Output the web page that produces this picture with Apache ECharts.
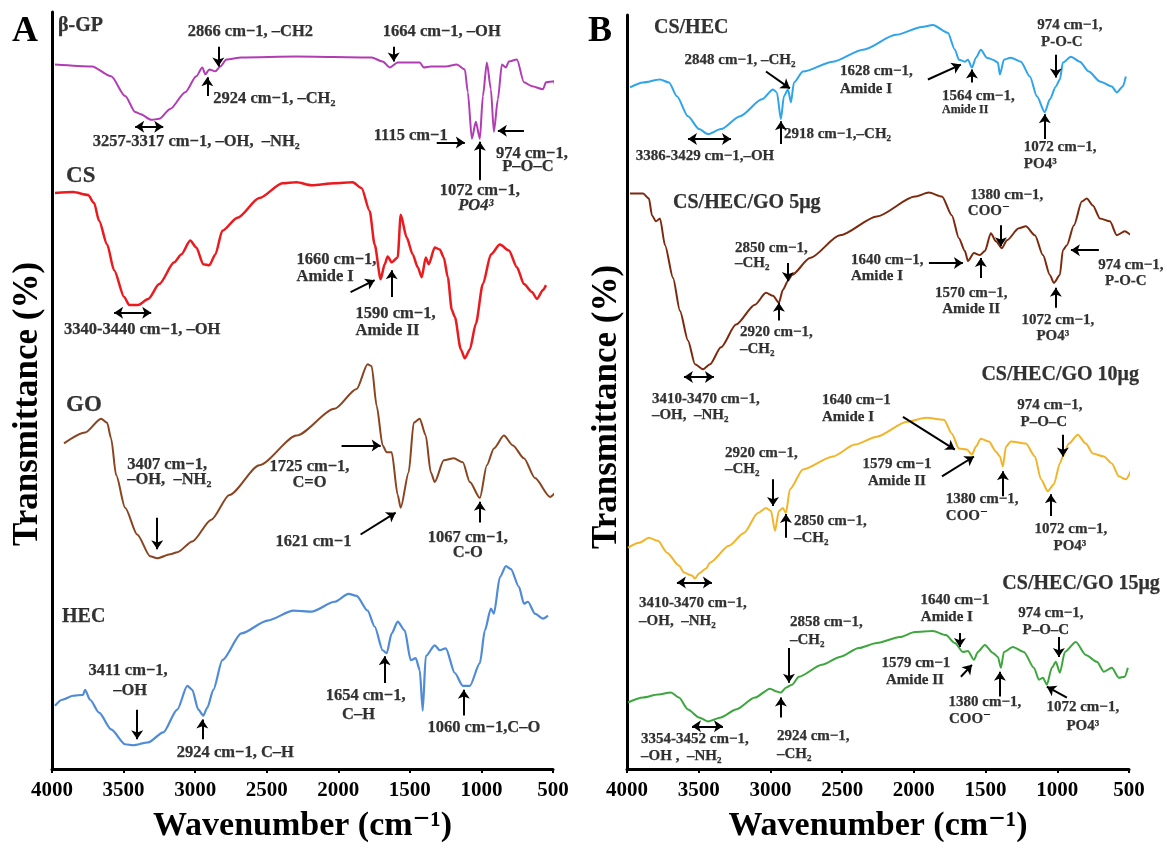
<!DOCTYPE html>
<html><head><meta charset="utf-8">
<script src="https://cdn.jsdelivr.net/npm/echarts@6/dist/echarts.min.js"></script>
<style>html,body{margin:0;padding:0;background:#fff}#c{width:1167px;height:848px}</style>
</head><body><div id="c"></div>
<script>
// ---------- Panel A spectra (wavenumber cm-1, transmittance a.u., stacked offsets) ----------
const bgpWn = [3979,3720,3587,3489,3419,3384,3307,3251,3174,3069,2992,2950,2929,2901,2859,2824,2782,2677,2292,1767,1690,1641,1585,1431,1403,1354,1249,1172,1116,1095,1067,1039,1011,990,962,934,913,885,857,829,808,752,703,647,570,549,493,465,444,416];
const bgpT  = [712,710,700,680,664,662,656,657,667,684,700,709,702,707,705,710,717,719,720,719,715,709,714,714,709,710,710,712,707,684,637,654,637,680,714,687,644,677,712,709,715,717,694,690,687,694,695,674,684,704];
const csWn  = [3979,3853,3748,3706,3671,3615,3566,3496,3461,3398,3328,3251,3146,3097,3034,2992,2943,2901,2859,2810,2705,2551,2390,2292,2187,2026,1900,1837,1781,1746,1704,1676,1655,1627,1585,1564,1522,1480,1445,1417,1389,1368,1326,1291,1263,1235,1207,1186,1144,1116,1081,1039,990,934,871,808,752,703,647,612,570,549];
const csT   = [582,583,580,572,554,530,504,477,469,469,475,490,512,520,534,527,510,509,520,544,557,577,592,593,590,592,593,587,564,530,495,510,518,512,517,560,537,520,507,497,517,510,527,525,517,497,464,457,424,415,424,450,490,520,530,524,507,490,482,475,484,489];
const goWn  = [3916,3769,3657,3615,3587,3552,3489,3405,3314,3265,3174,3125,3020,2887,2761,2551,2292,2026,1872,1795,1767,1732,1690,1662,1627,1585,1564,1508,1473,1431,1389,1354,1326,1263,1193,1130,1081,1011,962,913,843,780,703,626,521,479,451];
const goT   = [329,340,354,350,334,297,264,237,215,213,217,219,230,252,277,307,337,364,384,409,407,367,327,320,320,277,264,300,350,354,337,300,290,312,314,310,290,274,307,324,337,327,314,294,275,279,280];
const hecWn = [3979,3930,3853,3783,3769,3734,3671,3587,3489,3433,3328,3223,3125,3055,3020,2978,2943,2915,2873,2810,2677,2495,2313,2187,2026,1928,1872,1795,1746,1690,1662,1627,1585,1536,1494,1459,1431,1410,1389,1326,1291,1249,1186,1130,1081,1011,976,934,913,871,829,794,738,703,675,626,570,535];
const hecT  = [64,70,74,75,80,70,57,40,25,24,27,37,60,84,80,60,54,62,80,110,137,150,160,159,169,177,175,160,144,120,117,137,149,140,110,112,100,59,114,125,120,122,97,84,84,107,140,162,157,194,205,202,184,167,169,157,152,155];
// ---------- Panel B spectra ----------
const cshecWn = [3979,3888,3770,3707,3652,3575,3498,3435,3345,3212,3059,2982,2955,2927,2906,2878,2857,2836,2773,2564,2355,2125,1944,1867,1763,1714,1686,1644,1623,1595,1567,1533,1491,1449,1414,1400,1372,1324,1254,1191,1142,1087,1052,1010,982,961,905,843,780,703,620,585,543,522];
const cshecT  = [687,692,695,692,678,658,645,640,645,658,675,685,682,655,678,685,672,692,703,713,725,740,748,750,742,725,715,713,715,707,717,725,717,715,712,700,715,717,713,698,678,662,675,688,695,712,718,713,703,693,688,682,688,698];
const go5Wn = [3979,3888,3847,3826,3798,3770,3735,3679,3631,3575,3526,3470,3421,3345,3240,3108,3031,2982,2941,2913,2878,2850,2724,2515,2258,1993,1895,1804,1735,1686,1644,1623,1581,1540,1505,1463,1428,1386,1351,1268,1219,1156,1100,1052,1024,982,961,933,884,829,794,752,703,633,585,529,480,438,424];
const go5T  = [580,580,575,558,552,555,528,495,462,432,408,403,408,425,448,468,480,477,470,483,492,498,515,538,557,577,581,577,558,535,522,512,520,518,522,540,532,525,533,545,547,538,518,498,490,498,523,528,548,572,575,568,555,552,538,542,538,552,558];
const go10Wn = [3993,3916,3847,3784,3721,3638,3603,3547,3526,3498,3449,3421,3289,3185,3087,3031,2996,2968,2941,2913,2892,2864,2773,2564,2411,2258,2048,1916,1790,1735,1686,1630,1595,1567,1533,1477,1428,1400,1379,1358,1324,1219,1156,1114,1066,1024,982,961,919,857,801,752,675,620,571,522,480];
const go10T  = [223,228,233,230,218,205,198,195,192,197,202,208,225,238,258,263,260,240,260,263,258,282,302,315,327,335,350,354,352,338,323,322,317,325,333,330,320,315,305,325,330,328,315,292,280,287,308,315,328,337,328,318,315,308,295,292,303];
const go15Wn = [3993,3888,3784,3693,3638,3575,3498,3435,3345,3240,3108,3003,2955,2927,2892,2850,2801,2641,2515,2383,2258,2097,1993,1867,1777,1714,1658,1623,1581,1554,1505,1449,1414,1393,1372,1310,1233,1163,1128,1100,1073,1038,1010,982,947,871,801,724,675,620,571,529,508];
const go15T  = [67,72,75,77,72,60,52,48,52,60,72,81,78,77,82,85,93,105,113,122,127,133,138,139,135,127,118,119,110,118,125,117,113,102,118,123,118,102,90,92,85,102,108,97,118,128,115,108,98,102,92,93,102];

const xTicks = [500,1000,1500,2000,2500,3000,3500,4000];

// ---------- Annotations: [text, wavenumber, T, align, kind] ----------
const notesA = [
 ['β-GP',3958,751,'left','name'],['CS',3902,599,'left','big'],['GO',3902,368,'left','big'],['HEC',3930,154,'left','name'],
 ['2866 cm−1, –CH2',2614,745,'center'],['1664 cm−1, –OH',1277,745,'center'],['2924 cm−1, –CH₂',2873,677,'left'],
 ['3257-3317 cm−1, –OH,  –NH₂',2992,634,'center'],['1115 cm−1',1494,640,'center'],['974 cm−1,',647,622,'center'],
 ['P–O–C',675,609,'center'],['1072 cm−1,',1011,584,'center'],['PO4³',1039,569,'center','it'],
 ['3340-3440 cm−1, –OH',3370,444,'center'],['1660 cm−1,',2292,515,'left'],['Amide I',2292,497,'left'],
 ['1590 cm−1,',1879,460,'left'],['Amide II',1879,443,'left'],
 ['3407 cm−1,',3475,307,'left'],['–OH,  –NH₂',3475,292,'left'],['1725 cm−1,',2201,305,'center'],['C=O',2201,289,'center'],
 ['1621 cm−1',2173,230,'center'],['1067 cm−1,',1095,234,'center'],['C-O',1095,219,'center'],
 ['3411 cm−1,',3468,99,'center'],['–OH',3454,79,'center'],['2924 cm−1, C–H',2719,16,'center'],
 ['1654 cm−1,',1809,74,'center'],['C–H',1858,55,'center'],['1060 cm−1,C–O',983,42,'center']
];
// arrows: [wn1, T1, wn2, T2, double]
const arrowsA = [
 [2838,730,2838,710],[1613,730,1613,715],[2915,680,2915,699],[3419,649,3223,649,1],[1312,633,1116,633],
 [703,645,885,645],[1011,595,1011,634],[3566,461,3307,461,1],[1914,482,1746,494],[1627,477,1627,504],
 [3265,254,3265,222],[1977,327,1704,327],[1844,237,1599,259],[1011,249,1011,270],
 [3405,60,3405,30],[2950,30,2950,50],[1676,87,1676,114],[1123,54,1123,80]
];
const notesB = [
 ['CS/HEC',3812,747,'left','name'],['CS/HEC/GO 5μg',3679,571,'left','name'],
 ['CS/HEC/GO 10μg',431,397,'right','name'],['CS/HEC/GO 15μg',285,187,'right','name'],
 ['3386-3429 cm−1,–OH',3456,618,'center'],['2848 cm−1, –CH₂',3212,715,'center'],['2918 cm−1,–CH₂',2906,640,'left'],
 ['1628 cm−1,',2515,703,'left'],['Amide I',2515,685,'left'],['1564 cm−1,',1804,678,'left'],['Amide II',1804,664,'left','sm'],
 ['974 cm−1,',912,750,'center'],['P-O-C',968,733,'center'],['1072 cm−1,',1233,627,'left'],['PO4³',1233,610,'left'],
 ['3410-3470 cm−1,',3826,373,'left'],['–OH,  –NH₂',3826,357,'left'],['2850 cm−1,',3247,525,'left'],['–CH₂',3247,510,'left'],
 ['2920 cm−1,',3212,440,'left'],['–CH₂',3212,423,'left'],['1640 cm−1,',2439,513,'left'],['Amide I',2439,497,'left'],
 ['1570 cm−1,',1600,480,'center'],['Amide II',1600,464,'center'],['1380 cm−1,',1351,578,'center'],['COO⁻',1477,562,'center'],
 ['1072 cm−1,',996,452,'center'],['PO4³',1031,436,'center'],['974 cm−1,',487,508,'center'],['P-O-C',522,492,'center'],
 ['3410-3470 cm−1,',3916,167,'left'],['–OH,  –NH₂',3916,149,'left'],['1640 cm−1',2641,372,'left'],['Amide I',2641,355,'left'],
 ['2920 cm−1,',3317,318,'left'],['–CH₂',3317,302,'left'],['2850 cm−1,',2836,250,'left'],['–CH₂',2836,233,'left'],
 ['1579 cm−1',2118,307,'center'],['Amide II',2118,290,'center'],['1380 cm−1,',1777,272,'left'],['COO⁻',1777,255,'left'],
 ['974 cm−1,',1052,367,'center'],['P–O–C',1094,350,'center'],['1072 cm−1,',905,242,'center'],['PO4³',912,225,'center'],
 ['3354-3452 cm−1,',3902,30,'left'],['–OH ,  –NH₂',3902,13,'left'],['2858 cm−1,',2864,148,'left'],['–CH₂',2864,130,'left'],
 ['2924 cm−1,',2955,33,'left'],['–CH₂',2955,15,'left'],['1640 cm−1',1714,170,'center'],['Amide I',1770,153,'center'],
 ['1579 cm−1',1986,107,'center'],['Amide II',1993,90,'center'],['1380 cm−1,',1505,67,'center'],['COO⁻',1609,50,'center'],
 ['974 cm−1,',1045,157,'center'],['P–O–C',1080,140,'center'],['1072 cm−1,',822,62,'center'],['PO4³',822,43,'center']
];
const arrowsB = [
 [3575,635,3275,635,1],[3031,703,2864,686],[2927,630,2927,653],[1902,695,1672,710],[1595,692,1595,705],[1010,720,1010,697],[1087,635,1087,660],
 [3603,395,3394,395,1],[2878,510,2878,492],[2941,452,2941,470],[1895,510,1658,510],[1533,495,1533,515],[1393,548,1393,527],[1010,465,1010,485],[710,523,905,523],
 [3652,188,3408,188,1],[2076,355,1714,322],[2982,292,2982,265],[2892,233,2892,257],[1804,295,1581,315],[1379,275,1379,300],[961,337,961,315],[1045,255,1045,277],
 [3547,43,3331,43,1],[2871,122,2871,87],[2927,52,2927,72],[1679,137,1679,123],[1672,93,1595,105],[1400,73,1400,98],[989,133,989,113],[933,72,1073,83]
];

const FONT = '"Liberation Serif","Times New Roman","DejaVu Serif",serif';
const zip = (w, t) => w.slice(0, Math.min(w.length, t.length)).map((x, i) => [x, t[i]]);

function curve(name, w, t, color, idx, width) {
  return { type: 'line', name, xAxisIndex: idx, yAxisIndex: idx, data: zip(w, t), symbol: 'none',
    clip: false, smooth: 0.25, smoothMonotone: 'x', silent: true,
    lineStyle: { color, width: width || 2 } };
}
function notes(idx, texts, arrows, baseSize) {
  const sizeOf = k => k === 'name' ? 20 : k === 'big' ? 23 : k === 'sm' ? 12 : baseSize;
  return {
    type: 'scatter', xAxisIndex: idx, yAxisIndex: idx, symbolSize: 1, clip: false, silent: true,
    itemStyle: { color: 'rgba(0,0,0,0)' },
    data: texts.map(a => ({ value: [a[1], a[2]], label: {
      show: true, position: 'inside', formatter: a[0], align: a[3], verticalAlign: 'middle',
      fontFamily: FONT, fontWeight: 'bold', fontSize: sizeOf(a[4]),
      fontStyle: a[4] === 'it' ? 'italic' : 'normal', color: '#000',
      textBorderColor: '#000', textBorderWidth: 0.25 } })),
    markLine: {
      silent: true, animation: false, symbol: ['none', 'arrow'], symbolSize: [9, 9],
      lineStyle: { color: '#000', width: 2, type: 'solid' }, label: { show: false },
      data: arrows.map(a => [{ coord: [a[0], a[1]], symbol: a[4] ? 'arrow' : 'none' }, { coord: [a[2], a[3]] }])
    }
  };
}
function xAx(idx) {
  return { type: 'value', gridIndex: idx, inverse: true, min: xTicks[0], max: xTicks[xTicks.length - 1], interval: 500,
    axisLine: { show: true, onZero: false, lineStyle: { color: '#000', width: 3 } },
    axisTick: { show: true, length: 4, lineStyle: { color: '#000', width: 2 } },
    axisLabel: { color: '#000', fontFamily: FONT, fontWeight: 'bold', fontSize: 21, margin: 11,
      formatter: v => String(v) },
    splitLine: { show: false },
    name: 'Wavenumber (cm⁻¹)', nameLocation: 'middle', nameGap: 40,
    nameTextStyle: { fontFamily: FONT, fontWeight: 'bold', fontSize: 34, color: '#000' } };
}
function yAx(idx, max) {
  return { type: 'value', gridIndex: idx, min: 0, max,
    axisLine: { show: true, lineStyle: { color: '#000', width: 3 } },
    axisTick: { show: false }, axisLabel: { show: false }, splitLine: { show: false } };
}

const chart = echarts.init(document.getElementById('c'), null, { renderer: 'canvas' });
chart.setOption({
  backgroundColor: '#fff',
  animation: false,
  grid: [
    { left: 52, right: 614, top: 12, bottom: 71 },
    { left: 627, right: 38, top: 15, bottom: 73 }
  ],
  xAxis: [xAx(0), xAx(1)],
  yAxis: [yAx(0, 765), yAx(1, 760)],
  graphic: [
    { type: 'text', left: 12, top: 14, style: { text: 'A', font: 'bold 36px ' + FONT, fill: '#000' } },
    { type: 'text', left: 588, top: 14, style: { text: 'B', font: 'bold 36px ' + FONT, fill: '#000' } },
    { type: 'text', x: 28, y: 404, rotation: Math.PI / 2,
      style: { text: 'Transmittance (%)', font: 'bold 35px ' + FONT, fill: '#000', align: 'center', verticalAlign: 'middle' } },
    { type: 'text', x: 607, y: 407, rotation: Math.PI / 2,
      style: { text: 'Transmittance (%)', font: 'bold 35px ' + FONT, fill: '#000', align: 'center', verticalAlign: 'middle' } }
  ],
  series: [
    curve('β-GP', bgpWn, bgpT, '#b23cb4', 0),
    curve('CS', csWn, csT, '#ea1a1f', 0, 2.5),
    curve('GO', goWn, goT, '#8a4420', 0),
    curve('HEC', hecWn, hecT, '#4f8bd6', 0, 2.2),
    curve('CS/HEC', cshecWn, cshecT, '#2ea4ea', 1),
    curve('CS/HEC/GO 5μg', go5Wn, go5T, '#7c2a0e', 1),
    curve('CS/HEC/GO 10μg', go10Wn, go10T, '#f2b428', 1),
    curve('CS/HEC/GO 15μg', go15Wn, go15T, '#3da63d', 1),
    notes(0, notesA, arrowsA, 16.5),
    notes(1, notesB, arrowsB, 15)
  ]
});
</script></body></html>
